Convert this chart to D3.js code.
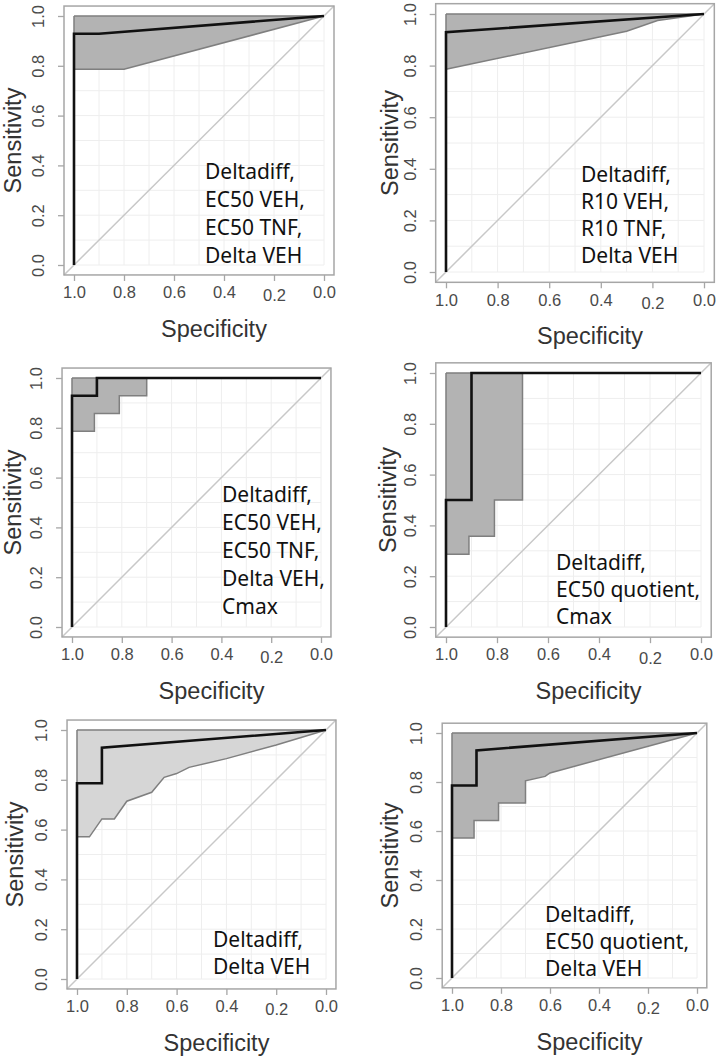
<!DOCTYPE html>
<html>
<head>
<meta charset="utf-8">
<script src="https://cdn.jsdelivr.net/npm/d3@7"></script>
<style>
  body { margin: 0; background: #fff; }
  .tick text { font-family: "Liberation Sans", Arial, sans-serif; fill: #4a4a4a; }
</style>
</head>
<body>
<div id="chart"></div>
<script>
const svgWidth = 717;
const svgHeight = 1057;

// ROC curves: [specificity, sensitivity]
const roc1 = [[1, 0], [1, 0.929], [0.9, 0.929], [0, 1]];
const roc2 = [[1, 0], [1, 0.929], [0, 1]];
const roc3 = [[1, 0], [1, 0.929], [0.9, 0.929], [0.9, 1], [0, 1]];
const roc4 = [[1, 0], [1, 0.5], [0.9, 0.5], [0.9, 1], [0, 1]];
const roc5 = [[1, 0], [1, 0.786], [0.9, 0.786], [0.9, 0.929], [0, 1]];
const roc6 = [[1, 0], [1, 0.786], [0.9, 0.786], [0.9, 0.929], [0, 1]];

// lower edge of the confidence band (upper edge is sensitivity = 1)
const ciLow1 = [[1, 0.786], [0.8, 0.786], [0, 1]];
const ciLow2 = [[1, 0.786], [0.3, 0.933], [0.18, 0.975], [0, 1]];
const ciLow3 = [[1, 0.786], [0.91, 0.786], [0.91, 0.857], [0.81, 0.857], [0.81, 0.929], [0.7, 0.929], [0.7, 1], [0, 1]];
const ciLow4 = [[1, 0.286], [0.91, 0.286], [0.91, 0.357], [0.81, 0.357], [0.81, 0.5], [0.7, 0.5], [0.7, 1], [0, 1]];
const ciLow5 = [[1, 0.571], [0.95, 0.571], [0.9, 0.643], [0.85, 0.643], [0.8, 0.714], [0.7, 0.75], [0.65, 0.81],
                [0.6, 0.825], [0.55, 0.85], [0.4, 0.885], [0.2, 0.94], [0, 1]];
const ciLow6 = [[1, 0.571], [0.91, 0.571], [0.91, 0.643], [0.81, 0.643], [0.81, 0.714], [0.7, 0.714], [0.7, 0.805],
                [0.62, 0.823], [0.6, 0.837], [0, 1]];

const labels1 = ["Deltadiff,", "EC50 VEH,", "EC50 TNF,", "Delta VEH"];
const labels2 = ["Deltadiff,", "R10 VEH,", "R10 TNF,", "Delta VEH"];
const labels3 = ["Deltadiff,", "EC50 VEH,", "EC50 TNF,", "Delta VEH,", "Cmax"];
const labels4 = ["Deltadiff,", "EC50 quotient,", "Cmax"];
const labels5 = ["Deltadiff,", "Delta VEH"];
const labels6 = ["Deltadiff,", "EC50 quotient,", "Delta VEH"];

const tickValues = [1, 0.8, 0.6, 0.4, 0.2, 0];

// layout of each panel (pixel range of the 0..1 plot region)
const panels = [
  {roc: roc1, low: ciLow1, labels: labels1, x0: 74,  x1: 324, y0: 265, y1: 16,  tx: 205, ty: 179, lh: 28, fill: "#b3b3b3", ylab: 13},
  {roc: roc2, low: ciLow2, labels: labels2, x0: 446, x1: 704, y0: 272, y1: 14,  tx: 581, ty: 182, lh: 27, fill: "#b3b3b3", ylab: 390},
  {roc: roc3, low: ciLow3, labels: labels3, x0: 72,  x1: 321, y0: 627, y1: 378, tx: 222, ty: 502, lh: 28, fill: "#b3b3b3", ylab: 13},
  {roc: roc4, low: ciLow4, labels: labels4, x0: 446, x1: 701, y0: 627, y1: 373, tx: 556, ty: 570, lh: 27, fill: "#b3b3b3", ylab: 388},
  {roc: roc5, low: ciLow5, labels: labels5, x0: 77,  x1: 326, y0: 979, y1: 730, tx: 213, ty: 947, lh: 27, fill: "#d6d6d6", ylab: 15},
  {roc: roc6, low: ciLow6, labels: labels6, x0: 452, x1: 697, y0: 978, y1: 733, tx: 545, ty: 922, lh: 27, fill: "#b3b3b3", ylab: 390}
];

const svg = d3.select("#chart")
  .append("svg")
  .attr("width", svgWidth)
  .attr("height", svgHeight);

panels.forEach(function(p) {
  const x = d3.scaleLinear().domain([1, 0]).range([p.x0, p.x1]);
  const y = d3.scaleLinear().domain([0, 1]).range([p.y0, p.y1]);
  const g = svg.append("g");

  // box is 4% wider than the data region, like R
  const bx0 = x(1.04), bx1 = x(-0.04), by0 = y(1.04), by1 = y(-0.04);

  // faint grid
  const grid = d3.range(0, 1.0001, 0.1);
  g.selectAll(".gv").data(grid).enter().append("line")
    .attr("x1", d => x(d)).attr("x2", d => x(d))
    .attr("y1", y(0)).attr("y2", y(1))
    .attr("stroke", "#eeeeee").attr("stroke-width", 1);
  g.selectAll(".gh").data(grid).enter().append("line")
    .attr("x1", x(1)).attr("x2", x(0))
    .attr("y1", d => y(d)).attr("y2", d => y(d))
    .attr("stroke", "#eeeeee").attr("stroke-width", 1);

  // confidence band
  const band = d3.area()
    .x(d => x(d[0]))
    .y0(d => y(d[1]))
    .y1(y(1));
  g.append("path")
    .datum(p.low)
    .attr("d", band)
    .attr("fill", p.fill);
  g.append("path")
    .datum(p.low)
    .attr("d", d3.line().x(d => x(d[0])).y(d => y(d[1])))
    .attr("fill", "none")
    .attr("stroke", "#7f7f7f")
    .attr("stroke-width", 1.5);
  g.append("line")
    .attr("x1", x(1)).attr("x2", x(0))
    .attr("y1", y(1)).attr("y2", y(1))
    .attr("stroke", "#7f7f7f").attr("stroke-width", 1.5);
  g.append("line")
    .attr("x1", x(1)).attr("x2", x(1))
    .attr("y1", y(1)).attr("y2", y(p.low[0][1]))
    .attr("stroke", "#7f7f7f").attr("stroke-width", 1.5);

  // chance diagonal
  g.append("line")
    .attr("x1", bx0).attr("y1", by1)
    .attr("x2", bx1).attr("y2", by0)
    .attr("stroke", "#c8c8c8").attr("stroke-width", 1.5);

  // ROC curve
  g.append("path")
    .datum(p.roc)
    .attr("d", d3.line().x(d => x(d[0])).y(d => y(d[1])))
    .attr("fill", "none")
    .attr("stroke", "#111")
    .attr("stroke-width", 2.6);

  // box
  g.append("rect")
    .attr("x", bx0).attr("y", by0)
    .attr("width", bx1 - bx0).attr("height", by1 - by0)
    .attr("fill", "none")
    .attr("stroke", "#a6a6a6")
    .attr("stroke-width", 1.5);

  // axes
  const bottomAxis = d3.axisBottom(x).tickValues(tickValues).tickSize(6).tickPadding(4).tickFormat(d3.format(".1f"));
  const leftAxis = d3.axisLeft(y).tickValues(tickValues).tickSize(6).tickFormat(d3.format(".1f"));

  const xAxis = g.append("g")
    .attr("transform", `translate(0, ${by1})`)
    .call(bottomAxis);
  xAxis.select(".domain").remove();
  xAxis.selectAll(".tick line").attr("stroke", "#a6a6a6").attr("stroke-width", 1.3);
  xAxis.selectAll(".tick text")
    .style("font-size", "16.5px")
    .attr("dy", d => d === 0.2 ? "1.0em" : "0.8em");

  const yAxis = g.append("g")
    .attr("transform", `translate(${bx0}, 0)`)
    .call(leftAxis);
  yAxis.select(".domain").remove();
  yAxis.selectAll(".tick line").attr("stroke", "#a6a6a6").attr("stroke-width", 1.3);
  yAxis.selectAll(".tick text")
    .style("font-size", "16.5px")
    .attr("x", 0).attr("dy", 0)
    .attr("text-anchor", "middle")
    .attr("transform", "translate(-20, 0) rotate(-90)");

  // axis titles
  g.append("text")
    .attr("x", (bx0 + bx1) / 2 + 15)
    .attr("y", by1 + 62)
    .attr("text-anchor", "middle")
    .style("font-family", "'Liberation Sans', Arial, sans-serif")
    .style("font-size", "23.5px")
    .style("fill", "#333")
    .text("Specificity");

  g.append("text")
    .attr("transform", `translate(${p.ylab + 8}, ${(by0 + by1) / 2}) rotate(-90)`)
    .attr("text-anchor", "middle")
    .style("font-family", "'Liberation Sans', Arial, sans-serif")
    .style("font-size", "23.5px")
    .style("fill", "#333")
    .text("Sensitivity");

  // model description
  g.selectAll(".lab").data(p.labels).enter().append("text")
    .attr("x", p.tx)
    .attr("y", (d, i) => p.ty + i * p.lh)
    .style("font-family", "'Noto Sans', sans-serif")
    .style("font-size", "21px")
    .style("fill", "#111")
    .text(d => d);
});
</script>
</body>
</html>
